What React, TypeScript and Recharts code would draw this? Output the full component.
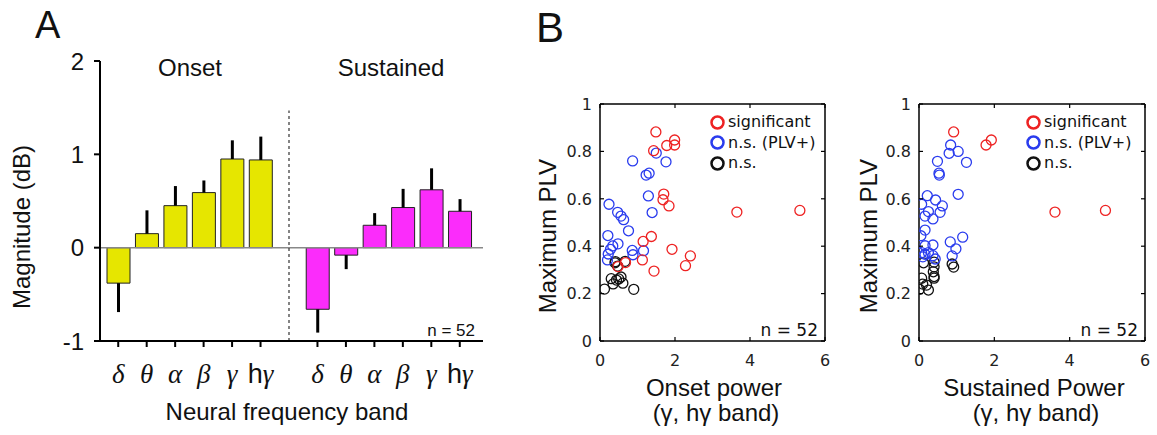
import React from "react";
import {
  Bar,
  BarChart,
  Cell,
  ErrorBar,
  Legend,
  ReferenceLine,
  Scatter,
  ScatterChart,
  XAxis,
  YAxis,
} from "recharts";

// ---- panel A: band magnitudes ----
const bandLabels = ["δ", "θ", "α", "β", "γ", "hγ"];
const onsetMean = [-0.38, 0.15, 0.45, 0.59, 0.95, 0.94];
const onsetSem = [0.31, 0.25, 0.21, 0.13, 0.2, 0.25];
const sustainedMean = [-0.66, -0.08, 0.24, 0.43, 0.62, 0.39];
const sustainedSem = [0.25, 0.15, 0.13, 0.2, 0.23, 0.13];
const magnitudeTicks = [-1, 0, 1, 2];

// ---- panel B: power vs max PLV, [power, PLV] ----
const onsetSig = [
  [1.49, 0.882], [1.43, 0.803], [1.78, 0.825], [1.99, 0.848], [1.99, 0.827],
  [1.7, 0.62], [1.68, 0.596], [1.84, 0.57], [3.65, 0.544], [5.33, 0.551],
  [1.15, 0.42], [1.37, 0.441], [1.92, 0.387], [2.41, 0.359], [2.28, 0.318],
  [1.13, 0.342], [1.44, 0.295], [0.48, 0.314], [0.68, 0.331],
];
const onsetPlvPlus = [
  [1.5, 0.793], [1.76, 0.756], [0.87, 0.76], [1.23, 0.7], [1.31, 0.708],
  [1.29, 0.612], [1.39, 0.542], [0.24, 0.577], [0.47, 0.543], [0.56, 0.527],
  [0.63, 0.512], [0.76, 0.465], [0.21, 0.445], [0.48, 0.41], [0.34, 0.401],
  [0.28, 0.387], [0.22, 0.367], [0.2, 0.342], [0.86, 0.382], [0.88, 0.364],
  [1.16, 0.381],
];
const onsetNs = [
  [0.41, 0.335], [0.47, 0.316], [0.67, 0.336], [0.3, 0.263], [0.35, 0.241],
  [0.5, 0.262], [0.56, 0.27], [0.61, 0.244], [0.44, 0.257], [0.12, 0.219],
  [0.9, 0.218], [0.4, 0.33],
];
const sustainedSig = [
  [0.92, 0.882], [1.78, 0.827], [1.92, 0.848], [3.61, 0.544], [4.95, 0.551],
];
const sustainedPlvPlus = [
  [0.84, 0.827], [0.8, 0.792], [1.04, 0.8], [1.26, 0.754], [0.49, 0.758],
  [0.53, 0.708], [0.54, 0.7], [1.04, 0.619], [0.22, 0.613], [0.44, 0.595],
  [0.07, 0.577], [0.62, 0.57], [0.25, 0.546], [0.56, 0.543], [0.16, 0.527],
  [0.37, 0.515], [0.16, 0.468], [0.05, 0.444], [1.16, 0.438], [0.83, 0.418],
  [0.37, 0.405], [0.16, 0.402], [0.98, 0.389], [0.07, 0.373], [0.25, 0.373],
  [0.16, 0.366], [0.37, 0.36], [0.88, 0.359], [0.43, 0.346], [0.1, 0.355],
];
const sustainedNs = [
  [0.12, 0.33], [0.4, 0.333], [0.4, 0.313], [0.38, 0.292], [0.4, 0.272],
  [0.88, 0.325], [0.92, 0.312], [0.07, 0.265], [0.1, 0.24], [0.2, 0.236],
  [0.01, 0.218], [0.25, 0.215], [0.4, 0.265],
];
const powerTicks = [0, 2, 4, 6];
const plvTicks = [0, 0.2, 0.4, 0.6, 0.8, 1];

const YELLOW = "#e6e600";
const MAGENTA = "#fb2cfb";
const RED = "#ee2222";
const BLUE = "#2a3cee";
const BLACK = "#111";
const SANS = "Liberation Sans, Arial, sans-serif";
const SERIF = "Liberation Serif, Times New Roman, serif";
const DJ = "DejaVu Sans, sans-serif";

const toRows = (prefix: string, means: number[], sems: number[], fill: string) =>
  means.map((m, i) => ({
    key: `${prefix}${i}`,
    label: bandLabels[i],
    value: m,
    err: m < 0 ? [sems[i], 0] : [0, sems[i]],
    fill,
  }));

const barRows = [
  ...toRows("on", onsetMean, onsetSem, YELLOW),
  { key: "gap", label: "", value: null, err: null, fill: "none" },
  ...toRows("su", sustainedMean, sustainedSem, MAGENTA),
];

const toPoints = (arr: number[][]) => arr.map(([x, y]) => ({ x, y }));

const legendItems = [
  { label: "significant", color: RED },
  { label: "n.s. (PLV+)", color: BLUE },
  { label: "n.s.", color: BLACK },
];

const BandTick = (props: any) => {
  const { x, y, payload } = props;
  const row = barRows.find((r) => r.key === payload.value);
  if (!row || !row.label) return null;
  return (
    <g>
      <line x1={x} x2={x} y1={y} y2={y + 6} stroke="#000" strokeWidth={2} />
      <text x={x} y={y + 42} textAnchor="middle" fontSize={27} fill="#111">
        {row.label === "hγ" ? (
          <>
            <tspan fontFamily={SANS}>h</tspan>
            <tspan fontFamily={SERIF} fontStyle="italic">γ</tspan>
          </>
        ) : (
          <tspan fontFamily={SERIF} fontStyle="italic">{row.label}</tspan>
        )}
      </text>
    </g>
  );
};

const ring = (color: string) => (p: any) =>
  <circle cx={p.cx} cy={p.cy} r={5} fill="none" stroke={color} strokeWidth={1.3} />;

const InTickX = (props: any) => {
  const { x, y, payload, plotH } = props;
  return (
    <g>
      <line x1={x} x2={x} y1={y} y2={y - 4} stroke="#000" strokeWidth={1.2} />
      <line x1={x} x2={x} y1={y - plotH} y2={y - plotH + 4} stroke="#000" strokeWidth={1.2} />
      <text x={x} y={y + 25} textAnchor="middle" fontFamily={DJ} fontSize={16} fill="#222">
        {payload.value}
      </text>
    </g>
  );
};

const InTickY = (props: any) => {
  const { x, y, payload, plotW } = props;
  return (
    <g>
      <line x1={x} x2={x + 4} y1={y} y2={y} stroke="#000" strokeWidth={1.2} />
      <line x1={x + plotW - 4} x2={x + plotW} y1={y} y2={y} stroke="#000" strokeWidth={1.2} />
      <text x={x - 8} y={y} dy="0.36em" textAnchor="end" fontFamily={DJ} fontSize={16} fill="#222">
        {payload.value}
      </text>
    </g>
  );
};

const LegendBox = () => (
  <div style={{ fontFamily: DJ, fontSize: 16, lineHeight: "20.5px", color: "#111" }}>
    {legendItems.map((g) => (
      <div key={g.label} style={{ display: "flex", alignItems: "center", whiteSpace: "nowrap" }}>
        <svg width={15} height={15}>
          <circle cx={7.5} cy={7.5} r={6} fill="none" stroke={g.color} strokeWidth={2.5} />
        </svg>
        <span style={{ marginLeft: 3 }}>{g.label}</span>
      </div>
    ))}
  </div>
);

const ScatterPanel = ({ left, yAxisW, sig, plvPlus, ns, legendLeft }: any) => {
  const plotW = 310 - 15 - yAxisW;
  return (
    <div style={{ position: "absolute", left, top: 90 }}>
      <ScatterChart width={310} height={280} margin={{ top: 14, right: 15, bottom: 0, left: 0 }}>
        <XAxis
          type="number"
          dataKey="x"
          domain={[0, 6]}
          ticks={powerTicks}
          allowDataOverflow
          height={29}
          tickSize={0}
          tickMargin={0}
          tickLine={false}
          axisLine={{ stroke: "#000", strokeWidth: 1.5 }}
          tick={(p: any) => <InTickX {...p} plotH={237} />}
        />
        <YAxis
          type="number"
          dataKey="y"
          domain={[0, 1]}
          ticks={plvTicks}
          allowDataOverflow
          width={yAxisW}
          tickSize={0}
          tickMargin={0}
          tickLine={false}
          axisLine={{ stroke: "#000", strokeWidth: 1.5 }}
          tick={(p: any) => <InTickY {...p} plotW={plotW} />}
        />
        <ReferenceLine y={1} stroke="#000" strokeWidth={1.5} />
        <ReferenceLine x={6} stroke="#000" strokeWidth={1.5} />
        <Scatter data={toPoints(ns)} shape={ring(BLACK)} isAnimationActive={false} />
        <Scatter data={toPoints(plvPlus)} shape={ring(BLUE)} isAnimationActive={false} />
        <Scatter data={toPoints(sig)} shape={ring(RED)} isAnimationActive={false} />
        <Legend
          layout="horizontal"
          align="center"
          verticalAlign="middle"
          wrapperStyle={{ top: 22, left: legendLeft, width: 130 }}
          content={() => <LegendBox />}
        />
      </ScatterChart>
    </div>
  );
};

export default function App() {
  return (
    <div style={{ position: "absolute", left: 0, top: 0, width: 1157, height: 435, background: "#fff", fontFamily: SANS }}>
      <div style={{ position: "absolute", left: 0, top: 0 }}>
        <BarChart width={500} height={435} data={barRows} margin={{ top: 61, right: 17, left: 0, bottom: 0 }}>
          <XAxis
            dataKey="key"
            interval={0}
            height={94}
            padding={{ left: 4, right: 9 }}
            tickSize={0}
            tickMargin={0}
            tickLine={false}
            axisLine={{ stroke: "#000", strokeWidth: 2 }}
            tick={<BandTick />}
          />
          <YAxis
            type="number"
            domain={[-1, 2]}
            ticks={magnitudeTicks}
            width={100}
            tickSize={6}
            tickMargin={10}
            tickLine={{ stroke: "#000", strokeWidth: 2 }}
            axisLine={{ stroke: "#000", strokeWidth: 2 }}
            tick={{ fontFamily: SANS, fontSize: 24, fill: "#111" }}
          />
          <ReferenceLine y={0} stroke="#888" strokeWidth={1.5} />
          <ReferenceLine
            segment={[{ x: "gap", y: -1 }, { x: "gap", y: 1.47 }]}
            stroke="#333"
            strokeWidth={1.2}
            strokeDasharray="3 3"
          />
          <Bar dataKey="value" barSize={23} stroke="#222" strokeWidth={1} isAnimationActive={false}>
            {barRows.map((r) => (
              <Cell key={r.key} fill={r.fill} />
            ))}
            <ErrorBar dataKey="err" width={0} strokeWidth={3} stroke="#000" direction="y" />
          </Bar>
        </BarChart>
      </div>

      <ScatterPanel left={530} yAxisW={70} sig={onsetSig} plvPlus={onsetPlvPlus} ns={onsetNs} legendLeft={180} />
      <ScatterPanel left={850} yAxisW={69} sig={sustainedSig} plvPlus={sustainedPlvPlus} ns={sustainedNs} legendLeft={176} />

      <svg width={1157} height={435} style={{ position: "absolute", left: 0, top: 0, pointerEvents: "none" }} fontFamily={SANS} fill="#111">
        <text x={35} y={38} fontSize={38}>A</text>
        <text x={536} y={42} fontSize={42}>B</text>
        <text x={190} y={76} fontSize={24} textAnchor="middle">Onset</text>
        <text x={391} y={76} fontSize={24} textAnchor="middle">Sustained</text>
        <text x={475} y={336} fontSize={17} textAnchor="end">n = 52</text>
        <text transform="translate(30,227) rotate(-90)" fontSize={24} textAnchor="middle">Magnitude (dB)</text>
        <text x={287} y={420} fontSize={24} textAnchor="middle">Neural frequency band</text>

        <text transform="translate(556,236) rotate(-90)" fontSize={24} textAnchor="middle">Maximum PLV</text>
        <text x={818} y={336} fontSize={17} textAnchor="end" fontFamily={DJ}>n = 52</text>
        <text x={714} y={396} fontSize={24} textAnchor="middle">Onset power</text>
        <text x={716} y={421} fontSize={24} textAnchor="middle">(γ, hγ band)</text>

        <text transform="translate(877,236) rotate(-90)" fontSize={24} textAnchor="middle">Maximum PLV</text>
        <text x={1138} y={336} fontSize={17} textAnchor="end" fontFamily={DJ}>n = 52</text>
        <text x={1034} y={396} fontSize={24} textAnchor="middle">Sustained Power</text>
        <text x={1036} y={421} fontSize={24} textAnchor="middle">(γ, hγ band)</text>
      </svg>
    </div>
  );
}
